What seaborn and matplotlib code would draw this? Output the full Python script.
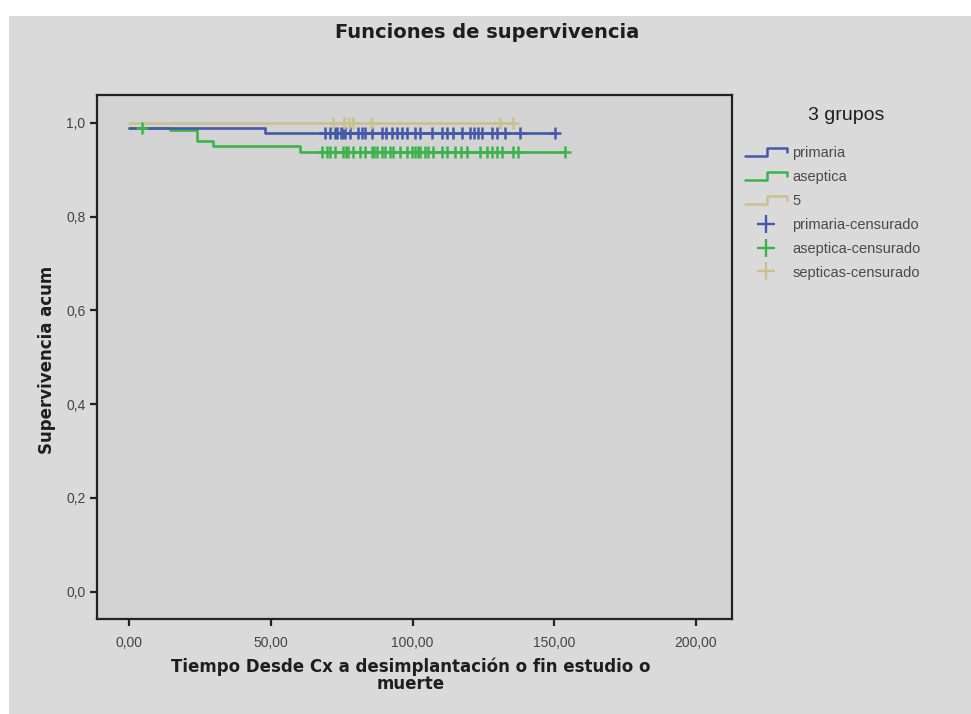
import numpy as np
import pandas as pd
import matplotlib
matplotlib.use("Agg")
import matplotlib.pyplot as plt
import seaborn as sns
from matplotlib.legend_handler import HandlerBase
from matplotlib.lines import Line2D
from matplotlib.patches import Rectangle

# ---------------- data ----------------
groups = ["primaria", "aseptica", "5"]
legend_title = "3 grupos"
legend_labels = ["primaria", "aseptica", "5",
                 "primaria-censurado", "aseptica-censurado", "septicas-censurado"]

primaria_event_t = [0.0, 48.0]
primaria_surv = [0.989, 0.9785]
primaria_end = 150.3
primaria_cens = [69.1, 70.9, 72.5, 73.4, 74.8, 75.5, 76.2, 78.0, 80.8, 82.2, 83.3,
                 85.6, 89.2, 90.7, 92.7, 94.4, 96.2, 98.0, 100.9, 102.6, 106.8,
                 110.3, 112.1, 114.4, 117.4, 120.3, 121.7, 123.1, 124.5, 127.9,
                 129.7, 132.6, 137.9, 150.3]

aseptica_event_t = [0.0, 14.5, 23.9, 29.6, 60.3]
aseptica_surv = [0.989, 0.984, 0.961, 0.951, 0.938]
aseptica_end = 153.8
aseptica_cens = [4.5, 68.0, 69.7, 70.9, 72.7, 75.5, 76.4, 77.3, 79.0, 81.5, 83.3,
                 85.6, 86.5, 87.4, 89.1, 90.3, 92.1, 93.2, 95.6, 97.9, 99.7, 100.9,
                 101.8, 102.6, 104.4, 105.5, 107.4, 110.3, 112.1, 115.0, 117.1,
                 119.1, 123.8, 126.2, 127.9, 129.7, 131.5, 135.6, 137.3, 153.8]

septicas_event_t = [0.0]
septicas_surv = [1.0]
septicas_end = 135.6
septicas_cens = [72.1, 75.9, 77.7, 79.1, 85.4, 130.9, 135.6]

x_ticks = [0, 50, 100, 150, 200]
x_ticklabels = ["0,00", "50,00", "100,00", "150,00", "200,00"]
y_ticks = [0.0, 0.2, 0.4, 0.6, 0.8, 1.0]
y_ticklabels = ["0,0", "0,2", "0,4", "0,6", "0,8", "1,0"]

colors = {"primaria": "#4459AA", "aseptica": "#3DB34B", "5": "#CBC08E"}

# ---------------- build tables ----------------
series = {
    "primaria": (primaria_event_t, primaria_surv, primaria_end, primaria_cens),
    "aseptica": (aseptica_event_t, aseptica_surv, aseptica_end, aseptica_cens),
    "5": (septicas_event_t, septicas_surv, septicas_end, septicas_cens),
}
line_rows, cens_rows = [], []
for g, (et, sv, end, cens) in series.items():
    for t, s in zip(list(et) + [end], list(sv) + [sv[-1]]):
        line_rows.append({"grupo": g, "t": t, "s": s})
    et_arr = np.asarray(et)
    for c in cens:
        idx = np.searchsorted(et_arr, c, side="right") - 1
        cens_rows.append({"grupo": g, "t": c, "s": sv[idx]})
df_lines = pd.DataFrame(line_rows)
df_cens = pd.DataFrame(cens_rows)

# ---------------- figure ----------------
sns.set_theme(style="white")
plt.rcParams["font.family"] = ["Liberation Sans", "DejaVu Sans"]

W, H = 971, 714
fig = plt.figure(figsize=(W / 100, H / 100), dpi=100)
fig.patch.set_facecolor("white")
fig.patches.append(Rectangle((9 / W, 0), 1 - 9 / W, 1 - 16 / H, transform=fig.transFigure,
                             facecolor="#DADADA", edgecolor="none", zorder=-10))

ax = fig.add_axes([96.7 / W, 1 - 619 / H, (732 - 96.7) / W, (619 - 95) / H])
ax.set_facecolor("#D3D3D3")

draw_order = ["aseptica", "primaria", "5"]
sns.lineplot(data=df_lines, x="t", y="s", hue="grupo", hue_order=draw_order,
             palette=colors, estimator=None, sort=False, drawstyle="steps-post",
             linewidth=1.9, legend=False, ax=ax)
sns.scatterplot(data=df_cens, x="t", y="s", hue="grupo", hue_order=draw_order,
                palette=colors, marker="+", s=75, linewidth=1.8, legend=False,
                ax=ax, zorder=3)

ax.set_xlim(-11.4, 212.7)
ax.set_ylim(-0.058, 1.059)
ax.set_xticks(x_ticks)
ax.set_xticklabels(x_ticklabels)
ax.set_yticks(y_ticks)
ax.set_yticklabels(y_ticklabels)
ax.set_xlabel("")
ax.set_ylabel("")
for sp in ax.spines.values():
    sp.set_visible(True)
    sp.set_color("#222222")
    sp.set_linewidth(1.6)
ax.tick_params(axis="both", direction="out", length=5, width=1.6, color="#222222",
               labelsize=10, labelcolor="#444444", bottom=True, left=True)
ax.tick_params(axis="x", pad=7)
ax.tick_params(axis="y", pad=3)

# titles and labels
fig.text(487 / W, 1 - 32 / H, "Funciones de supervivencia", ha="center", va="center",
         fontsize=14, fontweight="bold", color="#1E1E1E", family=["DejaVu Sans"])
fig.text(411 / W, 1 - 675 / H, "Tiempo Desde Cx a desimplantación o fin estudio o\nmuerte",
         ha="center", va="center", fontsize=12, fontweight="bold", color="#1E1E1E",
         linespacing=0.95, family=["DejaVu Sans"])
fig.text(47 / W, 1 - 360 / H, "Supervivencia acum", ha="center", va="center",
         rotation=90, fontsize=12, fontweight="bold", color="#1E1E1E",
         family=["DejaVu Sans"])


# legend with step icons
class StepHandler(HandlerBase):
    def create_artists(self, legend, orig_handle, xdescent, ydescent, width, height,
                       fontsize, trans):
        x0, y0 = -xdescent, -ydescent
        xs = [x0, x0 + 0.52 * width, x0 + 0.52 * width, x0 + width, x0 + width]
        ys = [y0 + 0.1 * height, y0 + 0.1 * height, y0 + 0.85 * height,
              y0 + 0.85 * height, y0 + 0.45 * height]
        ln = Line2D(xs, ys, color=orig_handle.get_color(),
                    linewidth=orig_handle.get_linewidth(), transform=trans)
        return [ln]


step_handles = [Line2D([], [], color=colors[g], linewidth=1.8) for g in groups]
cens_handles = [Line2D([], [], color=colors[g], marker="+", linestyle="none",
                       markersize=13, markeredgewidth=1.7) for g in groups]
handler_map = {h: StepHandler() for h in step_handles}
fig.text(846 / W, 1 - 116 / H, legend_title, ha="center", va="center",
         fontsize=14, color="#1E1E1E")
leg = fig.legend(step_handles + cens_handles, legend_labels,
                 loc="upper left", bbox_to_anchor=(745 / W, 1 - 146 / H),
                 bbox_transform=fig.transFigure, frameon=False, fontsize=10.5,
                 handlelength=2.9, handletextpad=0.35,
                 labelspacing=0.68, borderpad=0, borderaxespad=0,
                 handler_map=handler_map)
for t in leg.get_texts():
    t.set_color("#4A4A4A")

fig.savefig("out.png", dpi=100, facecolor=fig.get_facecolor())
